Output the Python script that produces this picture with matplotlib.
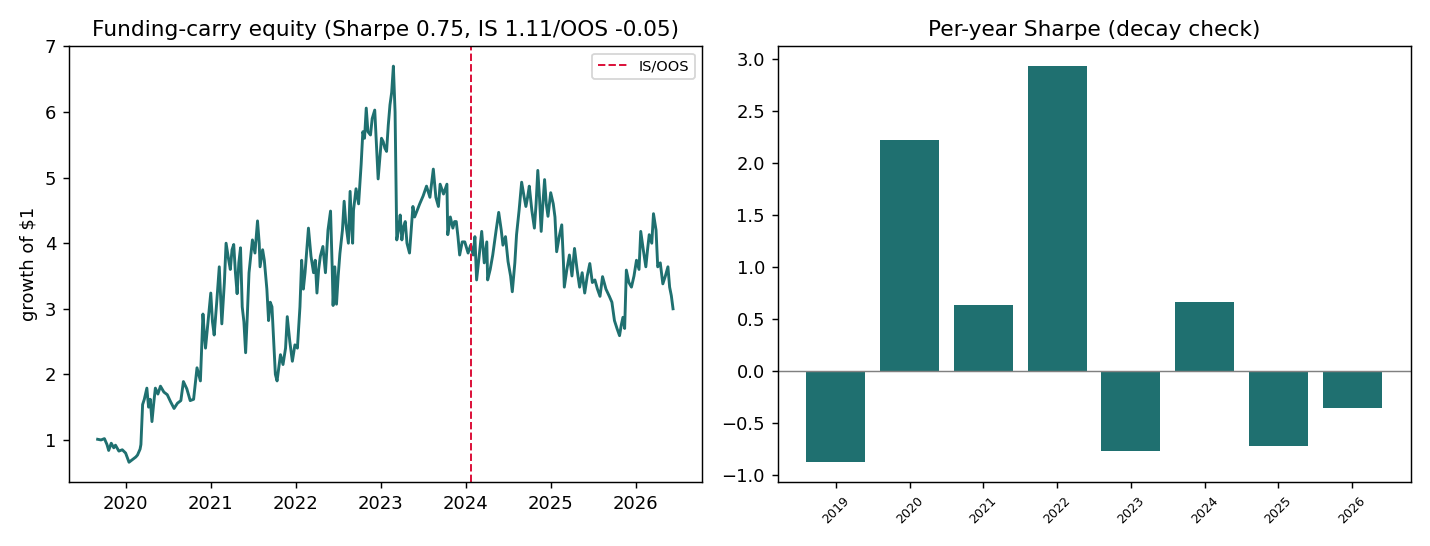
import numpy as np
import pandas as pd
import matplotlib
matplotlib.use('Agg')
import matplotlib.pyplot as plt

# equity curve (decimal year, growth of $1)
eq_year = [2019.67, 2019.71, 2019.75, 2019.78, 2019.80, 2019.83, 2019.86, 2019.88, 2019.92, 2019.96,
           2020.00, 2020.04, 2020.08, 2020.12, 2020.14, 2020.17, 2020.18, 2020.20, 2020.22, 2020.25,
           2020.27, 2020.29, 2020.31, 2020.33, 2020.35, 2020.38, 2020.41, 2020.45, 2020.49, 2020.53,
           2020.57, 2020.61, 2020.65, 2020.68, 2020.72, 2020.76, 2020.80, 2020.84, 2020.88, 2020.91,
           2020.93, 2020.94, 2020.97, 2021.00, 2021.02, 2021.04, 2021.07, 2021.10, 2021.13, 2021.16,
           2021.18, 2021.21, 2021.23, 2021.25, 2021.27, 2021.29, 2021.31, 2021.33, 2021.35, 2021.37,
           2021.39, 2021.41, 2021.43, 2021.45, 2021.47, 2021.49, 2021.52, 2021.55, 2021.57, 2021.58,
           2021.61, 2021.63, 2021.66, 2021.68, 2021.70, 2021.72, 2021.74, 2021.76, 2021.78, 2021.80,
           2021.82, 2021.85, 2021.88, 2021.90, 2021.93, 2021.96, 2021.99, 2022.02, 2022.05, 2022.07,
           2022.09, 2022.11, 2022.13, 2022.15, 2022.18, 2022.21, 2022.23, 2022.25, 2022.27, 2022.29,
           2022.32, 2022.35, 2022.38, 2022.41, 2022.43, 2022.44, 2022.46, 2022.48, 2022.50, 2022.52,
           2022.55, 2022.57, 2022.59, 2022.62, 2022.64, 2022.66, 2022.67, 2022.68, 2022.71, 2022.74,
           2022.77, 2022.79, 2022.81, 2022.83, 2022.85, 2022.88, 2022.90, 2022.93, 2022.95, 2022.97,
           2023.01, 2023.03, 2023.05, 2023.07, 2023.09, 2023.11, 2023.13, 2023.15, 2023.17, 2023.19,
           2023.21, 2023.23, 2023.25, 2023.27, 2023.29, 2023.31, 2023.34, 2023.36, 2023.38, 2023.40,
           2023.43, 2023.46, 2023.50, 2023.54, 2023.58, 2023.62, 2023.65, 2023.68, 2023.70, 2023.74,
           2023.78, 2023.79, 2023.82, 2023.85, 2023.87, 2023.89, 2023.91, 2023.93, 2023.96, 2023.99,
           2024.03, 2024.06, 2024.09, 2024.11, 2024.13, 2024.16, 2024.19, 2024.22, 2024.25, 2024.26,
           2024.29, 2024.32, 2024.36, 2024.39, 2024.42, 2024.44, 2024.47, 2024.50, 2024.53, 2024.55,
           2024.58, 2024.60, 2024.63, 2024.66, 2024.69, 2024.71, 2024.73, 2024.75, 2024.78, 2024.81,
           2024.83, 2024.85, 2024.87, 2024.89, 2024.91, 2024.93, 2024.95, 2024.97, 2025.00, 2025.03,
           2025.05, 2025.07, 2025.10, 2025.13, 2025.15, 2025.16, 2025.19, 2025.22, 2025.25, 2025.28,
           2025.31, 2025.34, 2025.37, 2025.40, 2025.43, 2025.46, 2025.49, 2025.52, 2025.55, 2025.58,
           2025.61, 2025.65, 2025.69, 2025.72, 2025.75, 2025.78, 2025.81, 2025.83, 2025.85, 2025.87,
           2025.89, 2025.92, 2025.95, 2025.98, 2026.01, 2026.04, 2026.06, 2026.09, 2026.12, 2026.14,
           2026.16, 2026.19, 2026.21, 2026.24, 2026.26, 2026.29, 2026.32, 2026.35, 2026.38, 2026.40,
           2026.42, 2026.44]
eq_value = [1.01, 1.00, 1.02, 0.93, 0.84, 0.95, 0.88, 0.92, 0.83, 0.85,
            0.80, 0.66, 0.70, 0.74, 0.77, 0.86, 0.93, 1.54, 1.62, 1.79,
            1.50, 1.62, 1.28, 1.55, 1.79, 1.70, 1.82, 1.73, 1.69, 1.58,
            1.48, 1.56, 1.60, 1.89, 1.78, 1.60, 1.62, 2.10, 1.90, 2.92,
            2.55, 2.40, 2.80, 3.24, 2.80, 2.60, 3.10, 3.64, 2.77, 3.40,
            4.00, 3.75, 3.60, 3.90, 3.98, 3.55, 3.23, 3.70, 3.93, 3.03,
            2.80, 2.33, 2.90, 3.55, 3.80, 4.05, 3.85, 4.34, 4.00, 3.64,
            3.90, 3.74, 3.30, 2.82, 3.10, 3.03, 2.50, 2.00, 1.90, 2.10,
            2.30, 2.15, 2.40, 2.88, 2.50, 2.20, 2.45, 2.40, 3.03, 3.74,
            3.30, 3.55, 3.90, 4.23, 3.80, 3.55, 3.74, 3.24, 3.60, 3.80,
            3.95, 3.55, 4.20, 4.49, 3.60, 3.05, 3.64, 3.07, 3.50, 3.84,
            4.20, 4.64, 4.30, 4.00, 4.79, 4.20, 4.00, 4.50, 4.83, 4.60,
            5.20, 5.70, 5.60, 6.06, 5.70, 5.65, 5.90, 6.03, 5.50, 4.98,
            5.60, 5.55, 5.45, 5.40, 5.80, 6.11, 6.30, 6.70, 6.00, 4.05,
            4.20, 4.43, 4.05, 4.25, 4.33, 4.00, 3.85, 4.20, 4.56, 4.40,
            4.50, 4.60, 4.72, 4.87, 4.70, 5.13, 4.70, 4.56, 4.90, 4.75,
            4.90, 4.13, 4.40, 4.23, 4.33, 4.33, 4.10, 3.82, 4.02, 4.02,
            3.85, 3.97, 3.82, 4.10, 3.44, 3.80, 4.18, 3.70, 4.02, 3.44,
            3.60, 3.82, 4.20, 4.47, 4.20, 3.97, 4.10, 3.72, 3.50, 3.26,
            3.70, 4.13, 4.50, 4.93, 4.70, 4.56, 4.70, 4.87, 4.50, 4.23,
            4.60, 5.11, 4.70, 4.18, 4.60, 4.97, 4.60, 4.41, 4.77, 4.60,
            4.40, 3.87, 4.10, 4.28, 3.70, 3.33, 3.60, 3.82, 3.50, 3.92,
            3.60, 3.33, 3.55, 3.24, 3.50, 3.69, 3.40, 3.44, 3.30, 3.19,
            3.49, 3.30, 3.19, 3.10, 2.82, 2.70, 2.59, 2.75, 2.87, 2.70,
            3.59, 3.40, 3.33, 3.50, 3.74, 3.60, 4.18, 3.90, 3.64, 3.90,
            4.13, 4.00, 4.45, 4.20, 3.64, 3.70, 3.38, 3.50, 3.64, 3.33,
            3.20, 3.00]

split_year = 2024.06

# per-year Sharpe
years = ['2019', '2020', '2021', '2022', '2023', '2024', '2025', '2026']
sharpe = [-0.88, 2.22, 0.63, 2.93, -0.77, 0.66, -0.72, -0.36]


def to_date(y):
    base = pd.Timestamp(year=int(y), month=1, day=1)
    return base + pd.Timedelta(days=(y - int(y)) * 365.25)


dates = [to_date(y) for y in eq_year]
teal = '#1f7070'

fig, (ax1, ax2) = plt.subplots(1, 2, figsize=(11, 4.2), dpi=130)

ax1.plot(dates, eq_value, color=teal, lw=1.6)
ax1.axvline(to_date(split_year), color='crimson', ls='--', lw=1.1, label='IS/OOS')
ax1.set_title('Funding-carry equity (Sharpe 0.75, IS 1.11/OOS -0.05)')
ax1.set_ylabel('growth of $1')
ax1.legend(loc='upper right', fontsize=8)

ax2.bar(years, sharpe, color=teal)
ax2.axhline(0, color='grey', lw=0.8)
ax2.set_title('Per-year Sharpe (decay check)')
ax2.tick_params(axis='x', labelrotation=45, labelsize=7)

plt.tight_layout()
plt.savefig('out.png', dpi=130)
